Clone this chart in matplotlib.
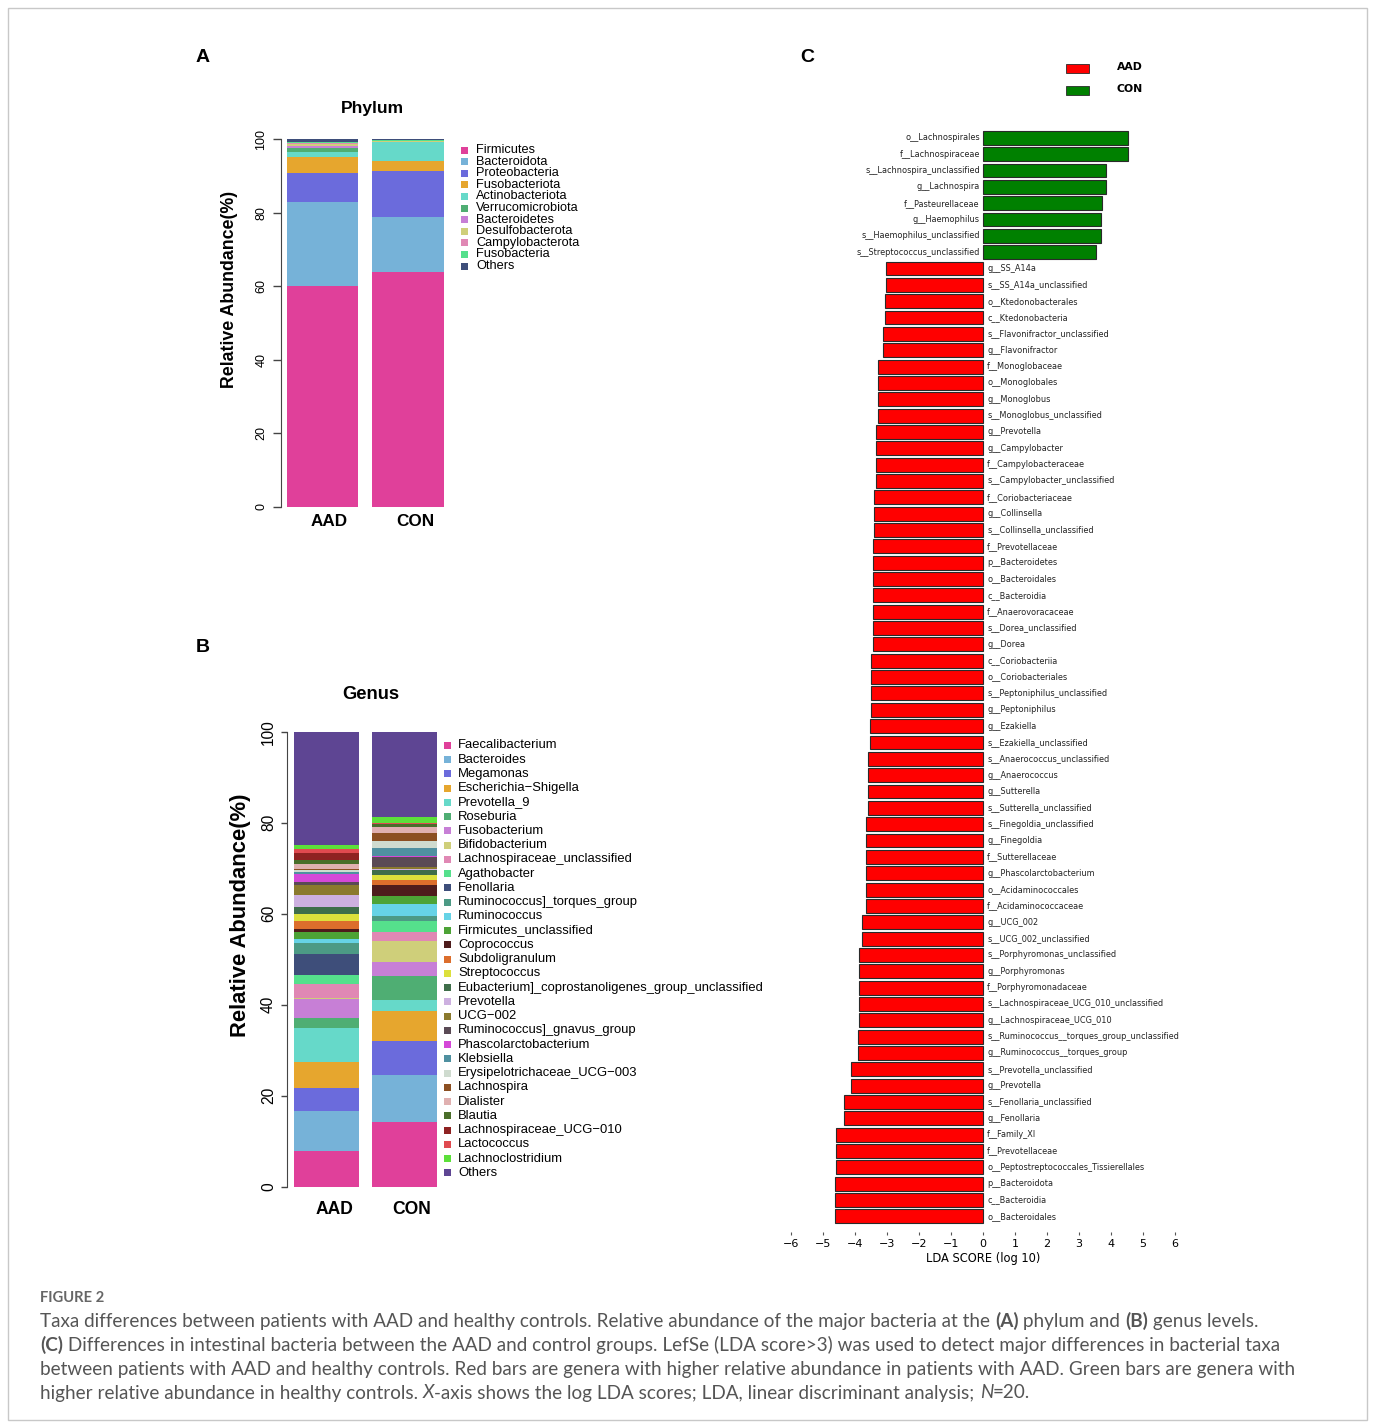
import matplotlib
matplotlib.use('Agg')
import matplotlib.pyplot as plt
from matplotlib.patches import Rectangle
from matplotlib import font_manager as fm
import numpy as np

W, H = 1375, 1428

# ---------------- data ----------------
groups = ['AAD', 'CON']

phylum_names = ['Firmicutes', 'Bacteroidota', 'Proteobacteria', 'Fusobacteriota',
                'Actinobacteriota', 'Verrucomicrobiota', 'Bacteroidetes',
                'Desulfobacterota', 'Campylobacterota', 'Fusobacteria', 'Others']
phylum_aad = [60.2, 22.7, 7.9, 4.4, 1.3, 1.2, 0.5, 0.4, 0.5, 0.3, 0.6]
phylum_con = [64.0, 14.9, 12.5, 2.6, 5.2, 0.1, 0.1, 0.1, 0.1, 0.2, 0.2]
phylum_colors = ['#E0409A', '#76B2D8', '#6B6BDC', '#E6A62E', '#66D9C9', '#4FAE73',
                 '#C77FD6', '#CFCF7A', '#E088B4', '#55E08C', '#3E4E7A']

genus_names = ['Faecalibacterium', 'Bacteroides', 'Megamonas', 'Escherichia\u2212Shigella',
               'Prevotella_9', 'Roseburia', 'Fusobacterium', 'Bifidobacterium',
               'Lachnospiraceae_unclassified', 'Agathobacter', 'Fenollaria',
               'Ruminococcus]_torques_group', 'Ruminococcus', 'Firmicutes_unclassified',
               'Coprococcus', 'Subdoligranulum', 'Streptococcus',
               'Eubacterium]_coprostanoligenes_group_unclassified', 'Prevotella',
               'UCG\u2212002', 'Ruminococcus]_gnavus_group', 'Phascolarctobacterium',
               'Klebsiella', 'Erysipelotrichaceae_UCG\u2212003', 'Lachnospira', 'Dialister',
               'Blautia', 'Lachnospiraceae_UCG\u2212010', 'Lactococcus', 'Lachnoclostridium',
               'Others']
genus_aad = [7.8, 8.8, 5.2, 5.5, 7.5, 2.3, 4.1, 0.3, 3.0, 2.1, 4.5, 2.5, 0.9, 1.5, 0.6,
             1.9, 1.4, 1.5, 2.7, 2.1, 0.8, 1.7, 0.4, 0.6, 0.2, 1.0, 0.9, 1.5, 1.0, 0.7, 25.0]
genus_con = [14.3, 10.2, 7.6, 6.5, 2.4, 5.3, 3.0, 4.8, 1.8, 2.5, 0.1, 1.0, 2.6, 1.9, 2.2,
             1.2, 1.0, 1.3, 0.1, 0.5, 2.1, 0.3, 1.7, 1.6, 1.7, 1.3, 0.7, 0.1, 0.1, 1.4, 18.7]
genus_colors = ['#E0409A', '#76B2D8', '#6B6BDC', '#E6A62E', '#66D9C9', '#4FAE73',
                '#C77FD6', '#CFCF7A', '#E088B4', '#55E08C', '#3E4E7A', '#4C9A85',
                '#66D3E6', '#4DA336', '#4E1C1C', '#DC6E2C', '#DCE03C', '#3F6E4A',
                '#CDB0E0', '#8B7A2E', '#5A4A55', '#D548D8', '#4F90A0', '#CFDBCF',
                '#8C4F22', '#E0B0B0', '#4A6E2A', '#8E2222', '#E04A50', '#5CE03A',
                '#5E4593']

lda_con_taxa = ['o__Lachnospirales', 'f__Lachnospiraceae', 's__Lachnospira_unclassified',
                'g__Lachnospira', 'f__Pasteurellaceae', 'g__Haemophilus',
                's__Haemophilus_unclassified', 's__Streptococcus_unclassified']
lda_con_scores = [4.54, 4.54, 3.84, 3.84, 3.73, 3.70, 3.70, 3.52]

lda_aad_taxa = ['g__SS_A14a', 's__SS_A14a_unclassified', 'o__Ktedonobacterales',
                'c__Ktedonobacteria', 's__Flavonifractor_unclassified', 'g__Flavonifractor',
                'f__Monoglobaceae', 'o__Monoglobales', 'g__Monoglobus',
                's__Monoglobus_unclassified', 'g__Prevotella', 'g__Campylobacter',
                'f__Campylobacteraceae', 's__Campylobacter_unclassified',
                'f__Coriobacteriaceae', 'g__Collinsella', 's__Collinsella_unclassified',
                'f__Prevotellaceae', 'p__Bacteroidetes', 'o__Bacteroidales', 'c__Bacteroidia',
                'f__Anaerovoracaceae', 's__Dorea_unclassified', 'g__Dorea', 'c__Coriobacteriia',
                'o__Coriobacteriales', 's__Peptoniphilus_unclassified', 'g__Peptoniphilus',
                'g__Ezakiella', 's__Ezakiella_unclassified', 's__Anaerococcus_unclassified',
                'g__Anaerococcus', 'g__Sutterella', 's__Sutterella_unclassified',
                's__Finegoldia_unclassified', 'g__Finegoldia', 'f__Sutterellaceae',
                'g__Phascolarctobacterium', 'o__Acidaminococcales', 'f__Acidaminococcaceae',
                'g__UCG_002', 's__UCG_002_unclassified', 's__Porphyromonas_unclassified',
                'g__Porphyromonas', 'f__Porphyromonadaceae',
                's__Lachnospiraceae_UCG_010_unclassified', 'g__Lachnospiraceae_UCG_010',
                's__Ruminococcus__torques_group_unclassified', 'g__Ruminococcus__torques_group',
                's__Prevotella_unclassified', 'g__Prevotella', 's__Fenollaria_unclassified',
                'g__Fenollaria', 'f__Family_XI', 'f__Prevotellaceae',
                'o__Peptostreptococcales_Tissierellales', 'p__Bacteroidota', 'c__Bacteroidia',
                'o__Bacteroidales']
lda_aad_scores = [-3.04, -3.04, -3.05, -3.05, -3.11, -3.11, -3.29, -3.29, -3.29, -3.29,
                  -3.34, -3.34, -3.34, -3.34, -3.40, -3.40, -3.40, -3.43, -3.43, -3.43,
                  -3.43, -3.43, -3.45, -3.45, -3.49, -3.49, -3.50, -3.50, -3.53, -3.53,
                  -3.58, -3.58, -3.58, -3.58, -3.65, -3.65, -3.65, -3.65, -3.66, -3.66,
                  -3.77, -3.77, -3.86, -3.86, -3.86, -3.88, -3.88, -3.92, -3.92, -4.11,
                  -4.11, -4.34, -4.34, -4.58, -4.58, -4.60, -4.63, -4.63, -4.63]
lda_ticks = [-6, -5, -4, -3, -2, -1, 0, 1, 2, 3, 4, 5, 6]

caption_title = 'FIGURE 2'
caption_lines = [
    [("Taxa differences between patients with AAD and healthy controls. Relative abundance of the major bacteria at the ", 'n'),
     ("(A)", 'b'), (" phylum and ", 'n'), ("(B)", 'b'), (" genus levels.", 'n')],
    [("(C)", 'b'), (" Differences in intestinal bacteria between the AAD and control groups. LefSe (LDA score>3) was used to detect major differences in bacterial taxa", 'n')],
    [("between patients with AAD and healthy controls. Red bars are genera with higher relative abundance in patients with AAD. Green bars are genera with", 'n')],
    [("higher relative abundance in healthy controls. ", 'n'), ("X", 'i'),
     ("-axis shows the log LDA scores; LDA, linear discriminant analysis; ", 'n'), ("N", 'i'), ("=20.", 'n')],
]

# ---------------- fonts ----------------
ttf = fm.fontManager.ttflist
names = set(f.name for f in ttf)
SANS = 'Liberation Sans'
TRUE_NARROW = False
NARROW = None
for cand in ['Liberation Sans Narrow', 'Arial Narrow']:
    if cand in names:
        NARROW = dict(family=cand)
        TRUE_NARROW = True
        break
if NARROW is None:
    NARROW = dict(family=SANS)
CAPF = 'Lato' if 'Lato' in names else 'DejaVu Sans'

fig = plt.figure(figsize=(W / 100, H / 100), dpi=100)
fig.patch.set_facecolor('white')
renderer = fig.canvas.get_renderer()


def add_ax(x0, y0, x1, y1):
    return fig.add_axes([x0 / W, 1 - y1 / H, (x1 - x0) / W, (y1 - y0) / H])


def ftext(x, y, s, **kw):
    return fig.text(x / W, 1 - y / H, s, **kw)


def text_w(s, fs, **kw):
    t = fig.text(0, 0, s, fontsize=fs, **kw)
    w = t.get_window_extent(renderer).width
    t.remove()
    return w


def fit_size(s, target, maxfs, **kw):
    w = text_w(s, 10.0, **kw)
    return min(maxfs, 10.0 * target / w)


def fsquare(xc, yc, size, color):
    fig.patches.append(Rectangle(((xc - size / 2) / W, 1 - (yc + size / 2) / H), size / W, size / H,
                                 transform=fig.transFigure, facecolor=color, edgecolor='none'))


# frame
fig.patches.append(Rectangle((8 / W, 1 - 1420 / H), (1367 - 8) / W, (1420 - 8) / H,
                             transform=fig.transFigure, fill=False, ec='#c8c8c8', lw=1.0))


def stacked(ax, aad, con, colors, width):
    x = np.arange(len(groups))
    bottoms = np.zeros(len(groups))
    for a, c, col in zip(aad, con, colors):
        vals = np.array([a, c])
        ax.bar(x, vals, width, bottom=bottoms, color=col, linewidth=0)
        bottoms += vals
    ax.set_ylim(0, 100)
    for s in ['top', 'right', 'bottom']:
        ax.spines[s].set_visible(False)
    ax.spines['left'].set_bounds(0, 100)
    ax.spines['left'].set_color('#444444')
    ax.set_xticks([])
    ax.set_yticks([0, 20, 40, 60, 80, 100])


# ---------------- Panel A ----------------
axA = add_ax(281, 139.3, 456, 506.7)
stacked(axA, phylum_aad, phylum_con, phylum_colors, 0.835)
axA.set_xlim(-0.488, 1.56)
axA.set_yticklabels(['0', '20', '40', '60', '80', '100'], rotation=90, va='center',
                    fontsize=9, family=SANS)
axA.tick_params(axis='y', length=5.8, width=1, color='#444444', pad=4)
ftext(229, 289, 'Relative Abundance(%)', rotation=90, ha='center', va='center',
      fontsize=12.8, weight='bold', family=SANS)
ftext(372, 108, 'Phylum', ha='center', va='center', fontsize=12.5, weight='bold', family=SANS)
ftext(329.5, 522, 'AAD', ha='center', va='center', fontsize=12.3, weight='bold', family=SANS)
ftext(415, 522, 'CON', ha='center', va='center', fontsize=12.3, weight='bold', family=SANS)
for k, (nm, col) in enumerate(zip(phylum_names, phylum_colors)):
    yy = 150 + k * 11.6
    fsquare(464.5, yy, 7, col)
    ftext(476, yy, nm, ha='left', va='center', fontsize=9.2, family=SANS)

# ---------------- Panel B ----------------
axB = add_ax(287.3, 731.7, 445, 1186.7)
stacked(axB, genus_aad, genus_con, genus_colors, 0.833)
axB.set_xlim(-0.503, 1.519)
axB.set_yticklabels(['0', '20', '40', '60', '80', '100'], rotation=90, va='center',
                    fontsize=11.2, family=SANS)
axB.tick_params(axis='y', length=4.2, width=1, color='#444444', pad=4)
ftext(240, 915, 'Relative Abundance(%)', rotation=90, ha='center', va='center',
      fontsize=15.8, weight='bold', family=SANS)
slack = 1.0 if TRUE_NARROW else 1.1
fs_title = fit_size('Genus', 50 * (1.0 if TRUE_NARROW else 1.15), 15.5, weight='bold', **NARROW)
ftext(371, 694, 'Genus', ha='center', va='center', fontsize=fs_title, weight='bold', **NARROW)
fs_grp = fit_size('AAD', 33 * (1.0 if TRUE_NARROW else 1.15), 14.5, weight='bold', **NARROW)
ftext(334, 1210, 'AAD', ha='center', va='center', fontsize=fs_grp, weight='bold', **NARROW)
ftext(412, 1210, 'CON', ha='center', va='center', fontsize=fs_grp, weight='bold', **NARROW)
fs_leg = fit_size(genus_names[17], 279 * slack, 11.0, **NARROW)
for k, (nm, col) in enumerate(zip(genus_names, genus_colors)):
    yy = 745.3 + k * 14.25
    fsquare(447.3, yy, 7, col)
    ftext(458.3, yy, nm, ha='left', va='center', fontsize=fs_leg, **NARROW)

# ---------------- Panel C ----------------
taxa = lda_con_taxa + lda_aad_taxa
scores = lda_con_scores + lda_aad_scores
n = len(taxa)
axC = add_ax(781.4, 129.6, 1184.6, 1224.6)
ypos = np.arange(n)
cols = ['#008000' if s > 0 else '#FF0000' for s in scores]
axC.barh(ypos, scores, height=0.85, color=cols, edgecolor='#2a2a2a', linewidth=0.8)
axC.set_ylim(n - 0.5, -0.5)
axC.set_xlim(-6.3, 6.3)
for yv, (t, s) in enumerate(zip(taxa, scores)):
    if s > 0:
        axC.text(-0.1, yv, t, ha='right', va='center', fontsize=5.9, color='#222222',
                 family='DejaVu Sans')
    else:
        axC.text(0.13, yv, t, ha='left', va='center', fontsize=5.9, color='#222222',
                 family='DejaVu Sans')
for s in ['top', 'right', 'left', 'bottom']:
    axC.spines[s].set_visible(False)
axC.spines['bottom'].set_position(('outward', 5))
axC.set_yticks([])
axC.set_xticks(lda_ticks)
axC.set_xticklabels([('\u2212%d' % -v) if v < 0 else '%d' % v for v in lda_ticks],
                    fontsize=8, family='DejaVu Sans')
axC.tick_params(axis='x', length=2.5, width=0.8, color='#555555', pad=3)
axC.set_xlabel('LDA SCORE (log 10)', fontsize=8.3, family='DejaVu Sans', labelpad=2)

# legend C
for yy, col, lab in [(68.3, '#FF0000', 'AAD'), (90.5, '#008000', 'CON')]:
    fig.patches.append(Rectangle((1066 / W, 1 - (yy + 4.3) / H), 22.5 / W, 8.6 / H,
                                 transform=fig.transFigure, facecolor=col,
                                 edgecolor='#2a2a2a', lw=0.6))
    ftext(1130, yy - 1.5, lab, ha='center', va='center', fontsize=7.8, weight='bold',
          family='DejaVu Sans')

# panel letters
ftext(203, 57, 'A', ha='center', va='center', fontsize=14, weight='bold', family=SANS)
ftext(203, 648, 'B', ha='center', va='center', fontsize=14, weight='bold', family=SANS)
ftext(807, 57, 'C', ha='center', va='center', fontsize=14, weight='bold', family=SANS)

# ---------------- caption ----------------
STYLE = {'n': dict(weight='normal', style='normal'),
         'b': dict(weight='bold', style='normal'),
         'i': dict(weight='normal', style='italic')}


def seg_width(s, fs, kind):
    t = fig.text(0, 0, '|' + s + '|', fontsize=fs, family=CAPF, **STYLE[kind])
    w1 = t.get_window_extent(renderer).width
    t.set_text('||')
    w0 = t.get_window_extent(renderer).width
    t.remove()
    return w1 - w0


base = 12.0
w_line1 = sum(seg_width(s, base, k) for s, k in caption_lines[0])
cap_fs = base * 1213.0 / w_line1

ftext(40, 1298, caption_title, ha='left', va='center', fontsize=cap_fs * 0.78,
      family=CAPF, color='#666666', weight='bold')
for li, line in enumerate(caption_lines):
    x = 40.0
    yy = 1321 + li * 24
    for s, k in line:
        ftext(x, yy, s, ha='left', va='center', fontsize=cap_fs, family=CAPF,
              color='#555555', **STYLE[k])
        x += seg_width(s, cap_fs, k)

fig.savefig('out.png', dpi=100, facecolor='white')
